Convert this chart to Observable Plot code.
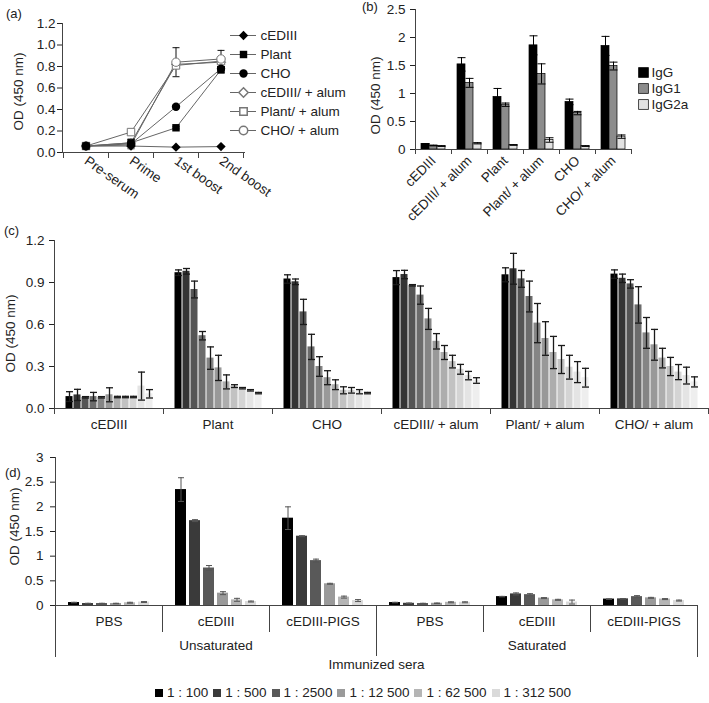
<!DOCTYPE html>
<html><head><meta charset="utf-8">
<script src="https://cdn.jsdelivr.net/npm/d3@7"></script>
<script src="https://cdn.jsdelivr.net/npm/@observablehq/plot@0.6"></script>
<style>
body{margin:0;background:#fff;}
#root{position:relative;width:709px;height:703px;overflow:hidden;font-family:"Liberation Sans",Arial,sans-serif;font-size:13.5px;color:#222;}
.layer{position:absolute;}
.layer svg{overflow:visible;max-width:none;}
.plabel{position:absolute;font-size:13px;line-height:13px;}
.legd{position:absolute;left:155px;top:686px;white-space:nowrap;line-height:14px;}
.legd span.sw{display:inline-block;width:8px;height:8px;margin-right:4px;vertical-align:0px;}
.legd span.it{margin-right:5px;}
</style></head><body><div id="root"></div>
<script>
// ---------------- (a) ----------------
const stages = ["Pre-serum", "Prime", "1st boost", "2nd boost"];
const seriesA = ["cEDIII", "Plant", "CHO", "cEDIII/ + alum", "Plant/ + alum", "CHO/ + alum"];
const aCEDIII      = [0.06, 0.06, 0.05, 0.055];
const aPlant       = [0.06, 0.09, 0.23, 0.77];
const aCHO         = [0.06, 0.08, 0.425, 0.78];
const aCEDIIIAlum  = [0.06, 0.09, 0.82, 0.84];
const aPlantAlum   = [0.06, 0.19, 0.81, 0.85];
const aCHOAlum     = [0.06, 0.07, 0.84, 0.87];
const aCEDIIIErr     = [0, 0, 0, 0];
const aPlantErr      = [0, 0.01, 0.01, 0.03];
const aCHOErr        = [0, 0.045, 0.01, 0.02];
const aCEDIIIAlumErr = [0, 0.01, 0.02, 0.02];
const aPlantAlumErr  = [0, 0.01, 0.02, 0.02];
const aCHOAlumErr    = [0, 0, 0.135, 0.08];
const aYTicks = [0, 0.2, 0.4, 0.6, 0.8, 1.0, 1.2];
const aSymbols = ["diamond2", "square", "circle", "diamond2", "square", "circle"];
const aFilled = [true, true, true, false, false, false];

// ---------------- (b) ----------------
const bGroups = ["cEDIII", "cEDIII/ + alum", "Plant", "Plant/ + alum", "CHO", "CHO/ + alum"];
const bClasses = ["IgG", "IgG1", "IgG2a"];
const bIgG      = [0.10, 1.52, 0.94, 1.86, 0.85, 1.85];
const bIgGErr   = [0.005, 0.12, 0.15, 0.17, 0.05, 0.17];
const bIgG1     = [0.07, 1.19, 0.80, 1.35, 0.65, 1.49];
const bIgG1Err  = [0.005, 0.08, 0.03, 0.18, 0.03, 0.07];
const bIgG2a    = [0.06, 0.11, 0.08, 0.17, 0.06, 0.23];
const bIgG2aErr = [0.005, 0.01, 0.005, 0.04, 0.005, 0.03];
const bYTicks = [0, 0.5, 1, 1.5, 2, 2.5];
const bColors = ["#000000", "#8c8c8c", "#e2e2e2"];

// ---------------- (c) ----------------
const cGroups = ["cEDIII", "Plant", "CHO", "cEDIII/ + alum", "Plant/ + alum", "CHO/ + alum"];
const cSteps = ["1", "2", "3", "4", "5", "6", "7", "8", "9", "10", "11"];
const cCEDIII         = [0.085, 0.097, 0.08, 0.085, 0.08, 0.098, 0.082, 0.082, 0.082, 0.16, 0.105];
const cCEDIIIErr      = [0.035, 0.04, 0.005, 0.03, 0.005, 0.05, 0.005, 0.005, 0.005, 0.10, 0.03];
const cPlant          = [0.97, 0.98, 0.85, 0.52, 0.36, 0.29, 0.19, 0.16, 0.145, 0.13, 0.11];
const cPlantErr       = [0.02, 0.02, 0.06, 0.03, 0.08, 0.09, 0.05, 0.01, 0.005, 0.005, 0.005];
const cCHO            = [0.925, 0.905, 0.69, 0.44, 0.30, 0.22, 0.17, 0.13, 0.13, 0.12, 0.11];
const cCHOErr         = [0.03, 0.02, 0.09, 0.09, 0.07, 0.05, 0.035, 0.025, 0.02, 0.015, 0.005];
const cCEDIIIAlum     = [0.935, 0.957, 0.88, 0.81, 0.64, 0.48, 0.40, 0.335, 0.28, 0.235, 0.20];
const cCEDIIIAlumErr  = [0.05, 0.03, 0.005, 0.065, 0.075, 0.055, 0.05, 0.045, 0.035, 0.03, 0.02];
const cPlantAlum      = [0.955, 0.998, 0.926, 0.80, 0.61, 0.50, 0.40, 0.35, 0.295, 0.26, 0.22];
const cPlantAlumErr   = [0.05, 0.11, 0.06, 0.11, 0.14, 0.12, 0.115, 0.10, 0.085, 0.075, 0.067];
const cCHOAlum        = [0.96, 0.93, 0.89, 0.74, 0.54, 0.455, 0.36, 0.30, 0.26, 0.235, 0.19];
const cCHOAlumErr     = [0.03, 0.03, 0.03, 0.13, 0.11, 0.11, 0.07, 0.065, 0.054, 0.06, 0.036];
const cYTicks = [0, 0.3, 0.6, 0.9, 1.2];
const cColors = ["#000000", "#353535", "#555555", "#6c6c6c", "#858585", "#999999", "#adadad", "#c2c2c2", "#d4d4d4", "#e4e4e4", "#eeeeee"];

// ---------------- (d) ----------------
const dHalves = ["Unsaturated", "Saturated"];
const dSera = ["PBS", "cEDIII", "cEDIII-PIGS"];
const dDilutions = ["1 : 100", "1 : 500", "1 : 2500", "1 : 12 500", "1 : 62 500", "1 : 312 500"];
const dUnsatPBS      = [0.06, 0.04, 0.04, 0.04, 0.055, 0.07];
const dUnsatPBSErr   = [0.005, 0.005, 0.005, 0.005, 0.01, 0.01];
const dUnsatCEDIII   = [2.35, 1.72, 0.76, 0.25, 0.115, 0.08];
const dUnsatCEDIIIErr= [0.24, 0.02, 0.05, 0.03, 0.03, 0.01];
const dUnsatPIGS     = [1.77, 1.405, 0.91, 0.44, 0.17, 0.10];
const dUnsatPIGSErr  = [0.23, 0.01, 0.03, 0.01, 0.02, 0.02];
const dSatPBS        = [0.06, 0.045, 0.04, 0.045, 0.065, 0.065];
const dSatPBSErr     = [0.005, 0.005, 0.005, 0.005, 0.01, 0.01];
const dSatCEDIII     = [0.18, 0.235, 0.22, 0.15, 0.115, 0.07];
const dSatCEDIIIErr  = [0.005, 0.02, 0.02, 0.01, 0.01, 0.04];
const dSatPIGS       = [0.13, 0.135, 0.18, 0.155, 0.13, 0.10];
const dSatPIGSErr    = [0.005, 0.005, 0.02, 0.01, 0.01, 0.01];
const dYTicks = [0, 0.5, 1, 1.5, 2, 2.5, 3];
const dColors = ["#000000", "#3a3a3a", "#595959", "#9a9a9a", "#b5b5b5", "#dadada"];

// ---------------- helpers ----------------
const root = document.getElementById("root");
const axisColor = "#444";
const FONT = '"Liberation Sans", Arial, sans-serif';
const baseStyle = {fontFamily: FONT, fontSize: "13.5px", color: "#222", overflow: "visible", background: "transparent", maxWidth: "none"};
const capSym = w => ({draw(ctx) { ctx.moveTo(-w, 0); ctx.lineTo(w, 0); }});
function place(node, left, top) {
  const d = document.createElement("div");
  d.className = "layer"; d.style.left = left + "px"; d.style.top = top + "px";
  d.appendChild(node); root.appendChild(d);
}
function label(text, left, top) {
  const s = document.createElement("div");
  s.className = "plabel"; s.style.left = left + "px"; s.style.top = top + "px"; s.textContent = text;
  root.appendChild(s);
}
function errMarks(rows, opts, w, color, width) {
  const base = {...opts, stroke: color, strokeWidth: width};
  return [
    Plot.ruleX(rows, {...base, y1: d => d.v - d.e, y2: d => d.v + d.e}),
    Plot.dot(rows, {...base, y: d => d.v - d.e, symbol: capSym(w), r: 1, fill: "none"}),
    Plot.dot(rows, {...base, y: d => d.v + d.e, symbol: capSym(w), r: 1, fill: "none"})
  ];
}
// free-floating text (no x / y channel)
const note = (text, opts) => Plot.text([text], {x: null, y: null, text: d => d, fill: "#222", textAnchor: "middle", ...opts});

// ---------------- panel (a) ----------------
const aValues = [aCEDIII, aPlant, aCHO, aCEDIIIAlum, aPlantAlum, aCHOAlum];
const aErrors = [aCEDIIIErr, aPlantErr, aCHOErr, aCEDIIIAlumErr, aPlantAlumErr, aCHOAlumErr];
const aRows = seriesA.flatMap((s, i) => stages.map((st, j) => ({series: s, stage: st, v: aValues[i][j], e: aErrors[i][j], filled: aFilled[i]})));
const aDims = {width: 250, height: 210, marginLeft: 62, marginRight: 6, marginTop: 23, marginBottom: 58};
place(Plot.plot({
  ...aDims, style: baseStyle,
  x: {type: "band", domain: stages, padding: 0, label: null, tickSize: 0, tickRotate: 35, tickPadding: 7},
  y: {domain: [0, 1.2], ticks: aYTicks, tickFormat: ".1f", tickSize: 5, tickPadding: 2, label: null},
  symbol: {domain: seriesA, range: aSymbols},
  marks: [
    Plot.frame({anchor: "left", stroke: axisColor}),
    Plot.frame({anchor: "bottom", stroke: axisColor}),
    Plot.line(aRows, {x: "stage", y: "v", z: "series", stroke: "#666", strokeWidth: 1}),
    ...errMarks(aRows.filter(d => d.e > 0), {x: "stage"}, 3.5, "#111", 1),
    Plot.dot(aRows.filter(d => !d.filled), {x: "stage", y: "v", symbol: "series", r: 4.2, fill: "white", stroke: "#777", strokeWidth: 1}),
    Plot.dot(aRows.filter(d => d.filled), {x: "stage", y: "v", symbol: "series", r: 4.2, fill: "#000", stroke: "none"}),
    note("OD (450 nm)", {frameAnchor: "left", rotate: -90, dx: -44, dy: 3.5})
  ]
}), 0, 0);
// boundary tick marks of (a)
place(Plot.plot({
  ...aDims, style: baseStyle,
  fx: {domain: stages, padding: 0, axis: null},
  marks: [
    Plot.frame({anchor: "left", insetTop: 129, insetBottom: -5, stroke: axisColor}),
    Plot.frame({anchor: "right", insetTop: 129, insetBottom: -5, stroke: axisColor}),
    Plot.text(stages, {fx: d => d, x: null, y: null, text: () => ""})
  ]
}), 0, 0);
// legend of (a)
place(Plot.plot({
  width: 134, height: 145, marginLeft: 0, marginRight: 0, marginTop: 0, marginBottom: 0, style: baseStyle,
  x: {type: "linear", domain: [0, 1], range: [4, 30], axis: null},
  y: {type: "point", domain: seriesA, range: [14, 130], axis: null},
  symbol: {domain: seriesA, range: aSymbols},
  marks: [
    Plot.ruleY(seriesA, {y: d => d, x1: 0, x2: 1, stroke: "#666"}),
    Plot.dot(seriesA.filter((s, i) => !aFilled[i]), {x: 0.5, y: d => d, symbol: d => d, r: 4.2, fill: "white", stroke: "#777"}),
    Plot.dot(seriesA.filter((s, i) => aFilled[i]), {x: 0.5, y: d => d, symbol: d => d, r: 4.2, fill: "#000", stroke: "none"}),
    Plot.text(seriesA, {x: 1, y: d => d, text: d => d, textAnchor: "start", dx: 4, fill: "#222"})
  ]
}), 226, 10);

// ---------------- panel (b) ----------------
const bVals = {IgG: [bIgG, bIgGErr], IgG1: [bIgG1, bIgG1Err], IgG2a: [bIgG2a, bIgG2aErr]};
const bRows = bGroups.flatMap((g, i) => bClasses.map(c => ({group: g, cls: c, v: bVals[c][0][i], e: bVals[c][1][i]})));
place(Plot.plot({
  width: 349, height: 225, marginLeft: 53, marginRight: 77, marginTop: 9, marginBottom: 76, style: baseStyle,
  fx: {domain: bGroups, padding: 0, axis: "bottom", label: null, tickSize: 0, tickRotate: -45, tickPadding: 9},
  x: {domain: bClasses, paddingInner: 0, paddingOuter: 0.6, axis: null},
  y: {domain: [0, 2.5], ticks: bYTicks, tickFormat: "~g", tickSize: 5, tickPadding: 5, label: null},
  color: {domain: bClasses, range: bColors},
  marks: [
    Plot.barY(bRows, {fx: "group", x: "cls", y: "v", fill: "cls", stroke: "#000", strokeWidth: 0.7}),
    ...errMarks(bRows, {fx: "group", x: "cls"}, 4, "#000", 1),
    Plot.frame({anchor: "left", facet: "super", stroke: axisColor}),
    Plot.frame({anchor: "bottom", facet: "super", stroke: axisColor}),
    Plot.frame({anchor: "left", insetTop: 140, insetBottom: -4, stroke: axisColor}),
    Plot.frame({anchor: "right", insetTop: 140, insetBottom: -4, stroke: axisColor}),
    note("OD (450 nm)", {facet: "super", frameAnchor: "left", rotate: -90, dx: -40, dy: 16})
  ]
}), 360, 0);
// legend of (b)
place(Plot.plot({
  width: 77, height: 76, marginLeft: 0, marginRight: 0, marginTop: 0, marginBottom: 0, style: baseStyle,
  x: {type: "linear", domain: [0, 1], range: [11, 19], axis: null},
  y: {type: "point", domain: bClasses, range: [13, 63], axis: null},
  color: {domain: bClasses, range: bColors},
  marks: [
    Plot.dot(bClasses, {x: 0, y: d => d, symbol: "square", r: 5.6, fill: d => d, stroke: "#000", strokeWidth: 0.7}),
    Plot.text(bClasses, {x: 1, y: d => d, text: d => d, textAnchor: "start", fill: "#222"})
  ]
}), 632, 50);

// ---------------- panel (c) ----------------
const cValues = [cCEDIII, cPlant, cCHO, cCEDIIIAlum, cPlantAlum, cCHOAlum];
const cErrors = [cCEDIIIErr, cPlantErr, cCHOErr, cCEDIIIAlumErr, cPlantAlumErr, cCHOAlumErr];
const cRows = cGroups.flatMap((g, i) => cSteps.map((s, j) => ({group: g, step: s, v: cValues[i][j], e: cErrors[i][j]})));
place(Plot.plot({
  width: 709, height: 218, marginLeft: 53, marginRight: 1, marginTop: 18, marginBottom: 32, style: baseStyle,
  fx: {domain: cGroups, padding: 0, axis: "bottom", label: null, tickSize: 0, tickPadding: 11},
  x: {domain: cSteps, paddingInner: 0, paddingOuter: 0.8, axis: null},
  y: {domain: [0, 1.2], ticks: cYTicks, tickFormat: ".1f", tickSize: 5, tickPadding: 5, label: null},
  color: {domain: cSteps, range: cColors},
  marks: [
    Plot.barY(cRows, {fx: "group", x: "step", y: "v", fill: "step", insetLeft: 0.5, insetRight: 0.5}),
    ...errMarks(cRows, {fx: "group", x: "step"}, 3.5, "#1a1a1a", 1.3),
    Plot.frame({anchor: "left", facet: "super", stroke: axisColor}),
    Plot.frame({anchor: "bottom", facet: "super", stroke: axisColor}),
    Plot.frame({anchor: "left", insetTop: 168, insetBottom: -5, stroke: axisColor}),
    Plot.frame({anchor: "right", insetTop: 168, insetBottom: -5, stroke: axisColor}),
    note("OD (450 nm)", {facet: "super", frameAnchor: "left", rotate: -90, dx: -44, dy: 9})
  ]
}), 0, 222);

// ---------------- panel (d) ----------------
const dKeys = dHalves.flatMap(h => dSera.map(s => h + "|" + s));
const dValues = [dUnsatPBS, dUnsatCEDIII, dUnsatPIGS, dSatPBS, dSatCEDIII, dSatPIGS];
const dErrors = [dUnsatPBSErr, dUnsatCEDIIIErr, dUnsatPIGSErr, dSatPBSErr, dSatCEDIIIErr, dSatPIGSErr];
const dRows = dKeys.flatMap((k, i) => dDilutions.map((dl, j) => ({key: k, dil: dl, v: dValues[i][j], e: dErrors[i][j]})));
const dHalfLabels = dHalves.map(h => ({key: h + "|" + dSera[1], text: h}));
place(Plot.plot({
  width: 709, height: 255, marginLeft: 53, marginRight: 11, marginTop: 9, marginBottom: 98, style: baseStyle,
  fx: {domain: dKeys, padding: 0, axis: "bottom", label: null, tickSize: 0, tickPadding: 11, tickFormat: k => k.split("|")[1]},
  x: {domain: dDilutions, paddingInner: 0.2, paddingOuter: 0.85, axis: null},
  y: {domain: [0, 3], ticks: dYTicks, tickFormat: "~g", tickSize: 5, tickPadding: 7, label: null},
  color: {domain: dDilutions, range: dColors},
  marks: [
    Plot.barY(dRows, {fx: "key", x: "dil", y: "v", fill: "dil"}),
    ...errMarks(dRows, {fx: "key", x: "dil"}, 3, "#555", 1),
    Plot.frame({anchor: "left", facet: "super", insetBottom: -51, stroke: axisColor}),
    Plot.frame({anchor: "right", facet: "super", insetTop: 148, insetBottom: -51, stroke: axisColor}),
    Plot.ruleX([0], {x: null, facet: "super", insetTop: 148, insetBottom: -51, stroke: axisColor}),
    Plot.frame({anchor: "bottom", facet: "super", stroke: axisColor}),
    Plot.frame({anchor: "left", insetTop: 148, insetBottom: -26, stroke: axisColor}),
    Plot.text(dHalfLabels, {fx: "key", x: null, y: null, text: "text", frameAnchor: "bottom", textAnchor: "middle", dy: 44, fill: "#222"}),
    note("Immunized sera", {facet: "super", frameAnchor: "bottom", dy: 63}),
    note("OD (450 nm)", {facet: "super", frameAnchor: "left", rotate: -90, dx: -40.5, dy: -5})
  ]
}), 0, 448);

// legend of (d)
const leg = document.createElement("div");
leg.className = "legd";
dDilutions.forEach((dl, i) => {
  const it = document.createElement("span"); it.className = "it";
  const sw = document.createElement("span"); sw.className = "sw"; sw.style.background = dColors[i];
  it.appendChild(sw); it.appendChild(document.createTextNode(dl));
  leg.appendChild(it);
});
root.appendChild(leg);

// panel letters
label("(a)", 6, 7);
label("(b)", 362, 0);
label("(c)", 4, 224);
label("(d)", 5, 466);
</script></body></html>
